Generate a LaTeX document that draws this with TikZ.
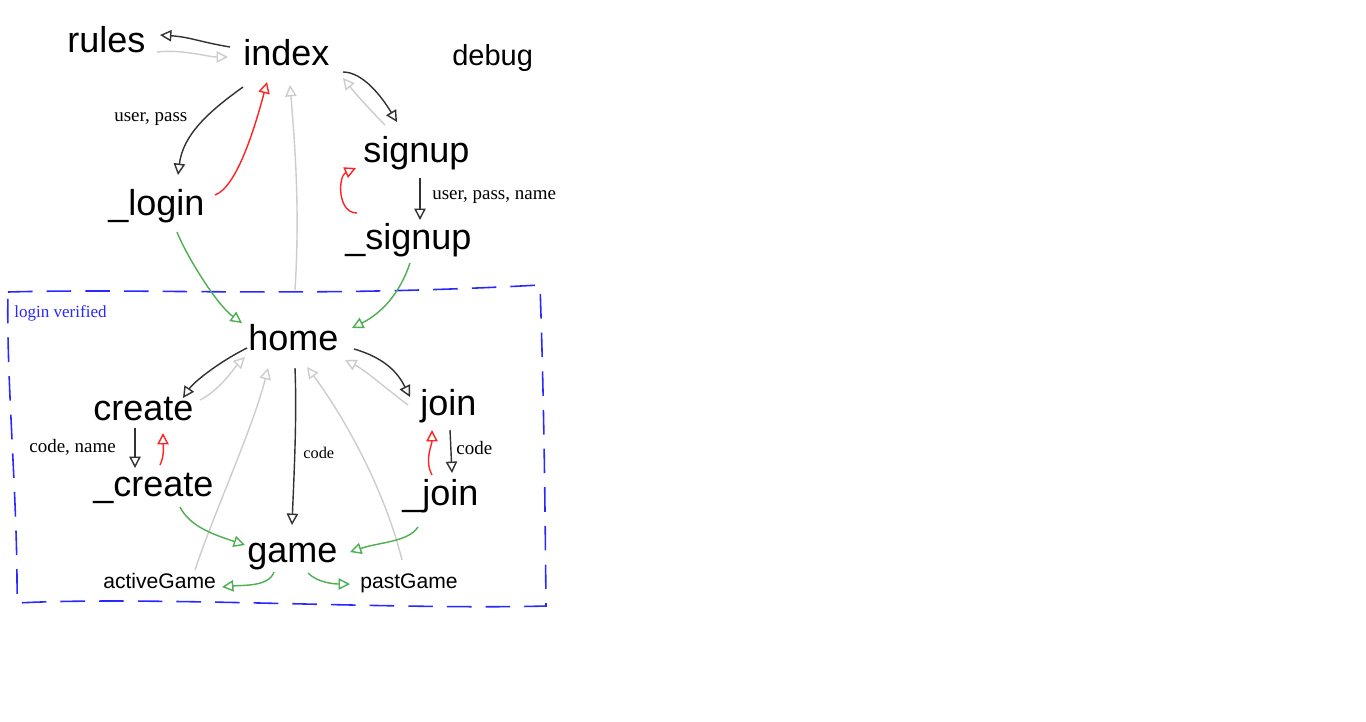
\documentclass[tikz,border=0pt]{standalone}
\usepackage{fontspec}
\setmainfont{Liberation Serif}
\newfontfamily\hv{Liberation Sans}
\usetikzlibrary{arrows.meta}
\definecolor{dk}{RGB}{50,50,50}
\definecolor{lt}{RGB}{205,205,205}
\definecolor{rd}{RGB}{255,35,35}
\definecolor{gn}{RGB}{76,175,80}
\definecolor{bl}{RGB}{40,40,255}
\tikzset{
  pg/.style={font=\hv\fontsize{20.5pt}{22pt}\selectfont, inner sep=0pt, anchor=base west},
  sm/.style={font=\hv\fontsize{12pt}{14pt}\selectfont, inner sep=0pt, anchor=base west},
  dbg/.style={font=\hv\fontsize{16.5pt}{18pt}\selectfont, inner sep=0pt, anchor=base west},
  lbl/.style={font=\fontsize{10.8pt}{12pt}\selectfont, inner sep=0pt, anchor=base west},
  tri/.style={-{Triangle[open,length=6.5pt,width=6.5pt]}, line width=0.8pt},
  dkA/.style={tri, draw=dk},
  ltA/.style={tri, draw=lt},
  rdA/.style={tri, draw=rd},
  gnA/.style={tri, draw=gn},
}
\begin{document}
\begin{tikzpicture}[x=0.02cm,y=-0.02cm]
\useasboundingbox[fill=white] (0,0) rectangle (1366,721);
% nodes
\node[pg] (rules) at (67,52) {rules};
\node[pg] (index) at (243,65) {index};
\node[dbg] (debug) at (452,65) {debug};
\node[pg] (signup) at (363,162) {signup};
\node[pg] (login) at (108,215) {\_login};
\node[pg] (usignup) at (345,249) {\_signup};
\node[pg] (home) at (248,350) {home};
\node[pg] (create) at (93,420) {create};
\node[pg] (join) at (420,415) {join};
\node[pg] (ucreate) at (93,496) {\_create};
\node[pg] (ujoin) at (402,505) {\_join};
\node[pg] (game) at (247,562) {game};
\node[sm] (active) at (103,588) {activeGame};
\node[sm] (past) at (360,588) {pastGame};
% labels
\node[lbl] (l1) at (114,121) {user, pass};
\node[lbl] (l2) at (432,199) {user, pass, name};
\node[lbl] (l3) at (29,452) {code, name};
\node[lbl, font=\fontsize{9.3pt}{11pt}\selectfont] (l4) at (303,458) {code};
\node[lbl] (l5) at (456,454) {code};
\node[lbl, font=\fontsize{9.7pt}{11pt}\selectfont, text=bl] (lv) at (14,317) {login verified};
% dashed region
\draw[bl, line width=0.9pt, dash pattern=on 14pt off 8pt]
  (8,292) .. controls (150,288) and (300,298) .. (540,285)
  .. controls (544,400) and (545,500) .. (546,606)
  .. controls (400,610) and (150,596) .. (17,603)
  .. controls (18,500) and (6,380) .. (8,292);
% connectors
\draw[dkA] ([shift={(-13,-18)}]index.base west) .. controls +(-30,-5) and +(30,2) .. ([shift={(93,-17)}]rules.base west);
\draw[ltA] ([shift={(90,0)}]rules.base west) .. controls +(25,-3) and +(-20,0) .. ([shift={(-15,-8)}]index.base west);
\draw[dkA] ([shift={(0,22)}]index.base west) .. controls +(-35,25) and +(5,-40) .. ([shift={(70,-40)}]login.base west);
\draw[rdA] ([shift={(107,-20)}]login.base west) .. controls +(22,-8) and +(-12,45) .. ([shift={(24,17)}]index.base west);
\draw[ltA] ([shift={(47,-60)}]home.base west) .. controls +(5,-80) and +(5,60) .. ([shift={(47,20)}]index.base west);
\draw[dkA] ([shift={(100,7)}]index.base west) .. controls +(20,0) and +(-15,-25) .. ([shift={(34,-40)}]signup.base west);
\draw[ltA] ([shift={(22,-37)}]signup.base west) .. controls +(-15,-15) and +(12,15) .. ([shift={(100,13)}]index.base west);
\draw[rdA] ([shift={(12,-36)}]usignup.base west) .. controls +(-20,0) and +(-18,8) .. ([shift={(-7,6)}]signup.base west);
\draw[dkA] ([shift={(57,16)}]signup.base west) -- ([shift={(75,-29)}]usignup.base west);
\draw[gnA] ([shift={(69,17)}]login.base west) .. controls +(10,25) and +(-25,-18) .. ([shift={(-6,-27)}]home.base west);
\draw[gnA] ([shift={(65,14)}]usignup.base west) .. controls +(-10,30) and +(30,-15) .. ([shift={(104,-22)}]home.base west);
\draw[dkA] ([shift={(-1,-2)}]home.base west) .. controls +(-30,15) and +(10,-15) .. ([shift={(90,-22)}]create.base west);
\draw[ltA] ([shift={(107,-20)}]create.base west) .. controls +(20,-10) and +(-10,10) .. ([shift={(-3,7)}]home.base west);
\draw[ltA] ([shift={(92,-18)}]active.base west) .. controls +(20,-60) and +(-15,60) .. ([shift={(20,18)}]home.base west);
\draw[dkA] ([shift={(47,18)}]home.base west) .. controls +(2,50) and +(2,-50) .. ([shift={(45,-37)}]game.base west);
\draw[ltA] ([shift={(42,-28)}]past.base west) .. controls +(-20,-80) and +(30,40) .. ([shift={(59,17)}]home.base west);
\draw[ltA] ([shift={(-12,-10)}]join.base west) .. controls +(-20,-15) and +(20,10) .. ([shift={(97,10)}]home.base west);
\draw[dkA] ([shift={(106,-1)}]home.base west) .. controls +(35,10) and +(-10,-20) .. ([shift={(-10,-18)}]join.base west);
\draw[dkA] ([shift={(42,8)}]create.base west) -- ([shift={(42,-28)}]ucreate.base west);
\draw[rdA] ([shift={(67,-31)}]ucreate.base west) .. controls +(5,-10) and +(0,10) .. ([shift={(70,13)}]create.base west);
\draw[dkA] ([shift={(30,15)}]join.base west) -- ([shift={(50,-32)}]ujoin.base west);
\draw[rdA] ([shift={(30,-30)}]ujoin.base west) .. controls +(-8,-15) and +(0,15) .. ([shift={(12,15)}]join.base west);
\draw[gnA] ([shift={(87,11)}]ucreate.base west) .. controls +(10,20) and +(-30,-10) .. ([shift={(-2,-17)}]game.base west);
\draw[gnA] ([shift={(16,22)}]ujoin.base west) .. controls +(-10,15) and +(30,-10) .. ([shift={(103,-10)}]game.base west);
\draw[gnA] ([shift={(27,10)}]game.base west) .. controls +(-5,15) and +(20,-2) .. ([shift={(119,-1)}]active.base west);
\draw[gnA] ([shift={(61,11)}]game.base west) .. controls +(10,10) and +(-15,0) .. ([shift={(-10,-4)}]past.base west);
\end{tikzpicture}
\end{document}
